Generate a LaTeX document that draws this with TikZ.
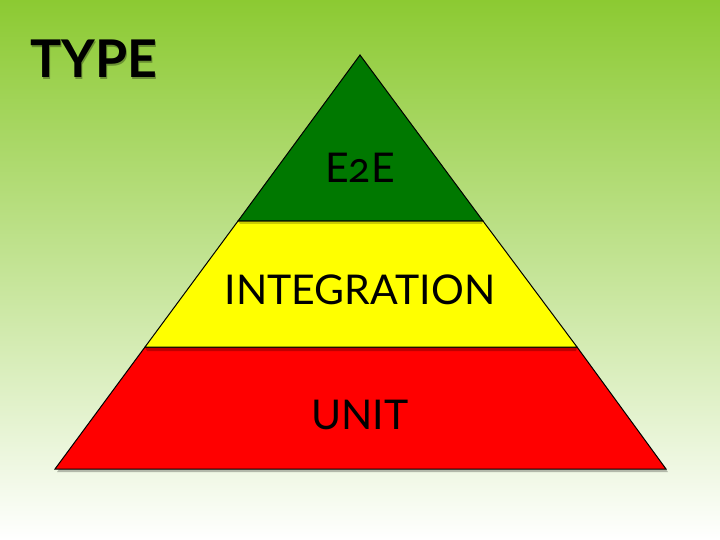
\documentclass[tikz,border=0pt]{standalone}
\usepackage{fontspec}
\setmainfont{Lato}
\newfontfamily\oldnum[Numbers=OldStyle]{Lato}
\usetikzlibrary{shadings}
\definecolor{bgtop}{RGB}{140,202,50}
\definecolor{bgmid}{RGB}{196,228,150}
\definecolor{bgbot}{RGB}{255,255,255}
\definecolor{lvlgreen}{RGB}{0,120,0}
\definecolor{lvlyellow}{RGB}{255,255,0}
\definecolor{lvlred}{RGB}{255,0,0}
\tikzset{
  layer/.style={draw=black, line width=1pt, line join=miter},
  lbl/.style={font=\fontsize{41}{44}\selectfont, text=black, inner sep=0pt},
  shadowlayer/.style={fill=black, opacity=0.25},
  titlefont/.style={font=\bfseries\fontsize{52}{56}\selectfont, inner sep=0pt, anchor=west}
}
\begin{document}
\begin{tikzpicture}[x=1pt,y=-1pt]
\useasboundingbox (0,0) rectangle (720,540);
\shade[top color=bgtop, bottom color=bgbot, middle color=bgmid, shading angle=0] (0,0) rectangle (720,540);
% coordinates
\coordinate (apex) at (360,55);
\coordinate (l1) at (238,221);
\coordinate (r1) at (483,221);
\coordinate (l2) at (145,347);
\coordinate (r2) at (577,347);
\coordinate (bl) at (55,469);
\coordinate (br) at (666,469);
% shadows
\fill[shadowlayer] ([shift={(2,3)}]bl) -- ([shift={(2,3)}]br) -- ([shift={(2,3)}]r2) -- ([shift={(2,3)}]l2) -- cycle;
% layers
\filldraw[layer, fill=lvlred] (bl) -- (br) -- (r2) -- (l2) -- cycle;
\fill[black, opacity=0.25] (l2) -- (r2) -- ([shift={(-1,4)}]r2) -- ([shift={(2,4)}]l2) -- cycle;
\filldraw[layer, fill=lvlyellow] (l2) -- (r2) -- (r1) -- (l1) -- cycle;
\fill[black, opacity=0.2] (l1) -- (r1) -- ([shift={(-1,3)}]r1) -- ([shift={(2,3)}]l1) -- cycle;
\filldraw[layer, fill=lvlgreen] (l1) -- (r1) -- (apex) -- cycle;
% labels
\node[lbl] (e2e) at (360,168) {\oldnum E2E};
\node[lbl] (integ) at (360,290) {INTEGRATION};
\node[lbl] (unit) at (360,415) {UNIT};
% title
\node[titlefont, text=black, opacity=0.3] (typeshadow) at (31.5,60.5) {TYPE};
\node[titlefont, text=black] (type) at (30,59) {TYPE};
\end{tikzpicture}
\end{document}
